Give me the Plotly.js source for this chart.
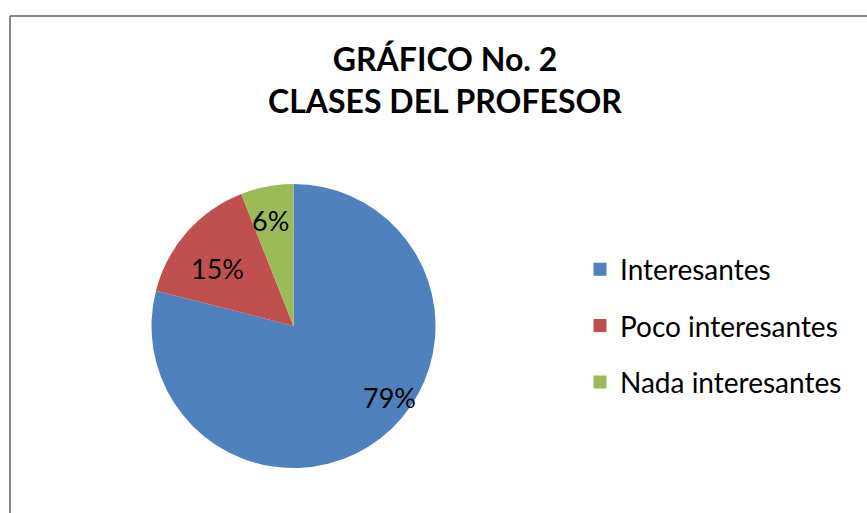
<!DOCTYPE html>
<html>
<head>
<meta charset="utf-8">
<script src="https://cdn.plot.ly/plotly-3.0.1.min.js"></script>
<style>
html,body{margin:0;padding:0;background:#fff;}
#chart{width:867px;height:513px;}
</style>
</head>
<body>
<div id="chart"></div>
<script>
const categories = ["Interesantes", "Poco interesantes", "Nada interesantes"];
const values = [79, 15, 6];
const colors = ["#4F81BD", "#C0504D", "#9BBB59"];
const titleLines = ["GRÁFICO No. 2", "CLASES DEL PROFESOR"];

const W = 867, H = 513;
const cx = 293.5, cy = 326, R = 142;
// label anchor positions in pixels (layout only)
const labelPx = [[389, 397], [217, 268], [270, 220]];

const total = values.reduce((a, b) => a + b, 0);

const pie = {
  type: "pie",
  labels: categories,
  values: values,
  sort: false,
  direction: "clockwise",
  rotation: 0,
  marker: {colors: colors, line: {width: 0}},
  textinfo: "none",
  showlegend: false,
  domain: {x: [(cx - R) / W, (cx + R) / W], y: [(H - cy - R) / H, (H - cy + R) / H]},
  hoverinfo: "label+percent"
};

// legend entries (no plotted points) so the legend spacing can match
const legendTraces = categories.map((c, i) => ({
  type: "scatter", mode: "markers",
  x: [null], y: [null],
  name: c, legendgroup: "g" + i,
  marker: {symbol: "square", size: 13, color: colors[i]},
  showlegend: true, hoverinfo: "skip"
}));

const annotations = values.map((v, i) => ({
  text: Math.round(v / total * 100) + "%",
  xref: "paper", yref: "paper",
  x: labelPx[i][0] / W, y: 1 - labelPx[i][1] / H,
  xanchor: "center", yanchor: "middle",
  showarrow: false,
  font: {family: "Lato, sans-serif", size: 27, color: "#000"}
}));

const layout = {
  width: W, height: H,
  margin: {l: 0, r: 0, t: 0, b: 0},
  paper_bgcolor: "#fff",
  plot_bgcolor: "rgba(0,0,0,0)",
  font: {family: "Lato, sans-serif", color: "#000"},
  xaxis: {visible: false, range: [0, 1]},
  yaxis: {visible: false, range: [0, 1]},
  title: {
    text: titleLines.join("<br>"),
    font: {family: "Lato, sans-serif", size: 32, color: "#000", weight: "bold"},
    x: 445 / W, xanchor: "center",
    y: 1 - 71 / H, yanchor: "top", yref: "container"
  },
  showlegend: true,
  legend: {
    x: 580 / W, xanchor: "left",
    y: 1 - 326 / H, yanchor: "middle",
    traceorder: "grouped",
    tracegroupgap: 17,
    itemsizing: "trace",
    font: {family: "Lato, sans-serif", size: 28, color: "#000"},
    bgcolor: "rgba(0,0,0,0)"
  },
  annotations: annotations,
  shapes: [
    {type: "line", xref: "paper", yref: "paper", x0: 10 / W, x1: 1.01, y0: 1 - 16 / H, y1: 1 - 16 / H, line: {color: "#878787", width: 2}},
    {type: "line", xref: "paper", yref: "paper", x0: 10 / W, x1: 10 / W, y0: 1 - 16 / H, y1: -0.01, line: {color: "#878787", width: 2}}
  ]
};

Plotly.newPlot("chart", [pie].concat(legendTraces), layout, {displayModeBar: false, staticPlot: true});
</script>
</body>
</html>
